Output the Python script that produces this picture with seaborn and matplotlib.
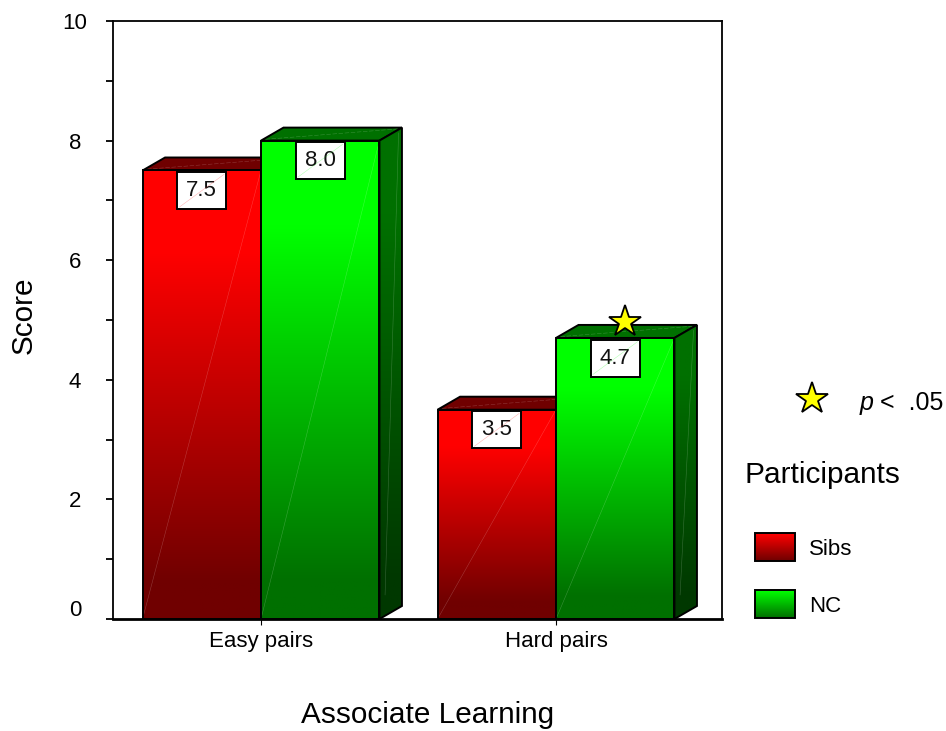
import numpy as np
import pandas as pd
import matplotlib
matplotlib.use("Agg")
import matplotlib.pyplot as plt
import seaborn as sns
from matplotlib.colors import LinearSegmentedColormap
from matplotlib.legend_handler import HandlerBase
from matplotlib.patches import Polygon, Rectangle, Patch
from matplotlib.path import Path
from matplotlib.lines import Line2D
from matplotlib.transforms import ScaledTranslation, IdentityTransform

# Chart data
conditions = ["Easy pairs", "Hard pairs"]
groups = ["Sibs", "NC"]
sibs_scores = [7.5, 3.5]
nc_scores = [8.0, 4.7]
y_ticks = [0, 2, 4, 6, 8, 10]
x_title = "Associate Learning"
y_title = "Score"
legend_title = "Participants"
significance_note = ".05"

W, H = 946, 731
FONT = "Liberation Sans"
sns.set_theme(style="white")
plt.rcParams["font.family"] = [FONT, "DejaVu Sans"]

# Shading of each group: bright, dark front colour; top colour; dark side colour
shades = {
    "Sibs": ("#ff0000", "#700000", "#700000", "#380000"),
    "NC": ("#00ff00", "#007000", "#007000", "#003800"),
}


def ramp(bright, dark):
    return LinearSegmentedColormap.from_list(
        "ramp", [(0, bright), (0.18, bright), (0.92, dark), (1, dark)])


grad = np.linspace(0, 1, 256).reshape(-1, 1)

fig = plt.figure(figsize=(W / 100, H / 100), dpi=100, facecolor="white")
ax = fig.add_axes([113 / W, 1 - 619 / H, 609 / W, 598 / H])

table = pd.DataFrame({
    "condition": conditions * 2,
    "group": [groups[0]] * 2 + [groups[1]] * 2,
    "score": sibs_scores + nc_scores,
})
sns.barplot(data=table, x="condition", y="score", hue="group", hue_order=groups,
            order=conditions, palette=[shades[g][0] for g in groups], width=0.803,
            gap=0, saturation=1, legend=False, ax=ax, errorbar=None)

xlim = (-0.5017, 1.5627)
ylim = (0, 10)
depth_x, depth_y = 22.5 / 295, 13 / 59.8
edge_lw = 1.4
seam = dict(color="white", lw=0.4, alpha=0.22)

for gi, (group, container) in enumerate(zip(groups, ax.containers)):
    bright, dark, top_col, side_col = shades[group]
    z = 2 + 2 * gi
    for bar in container:
        x0, w, v = bar.get_x(), bar.get_width(), bar.get_height()
        x1 = x0 + w
        # Top face and side face give the bar its depth
        top = Polygon([(x0, v), (x1, v), (x1 + depth_x, v + depth_y), (x0 + depth_x, v + depth_y)],
                      closed=True, fc=top_col, ec="black", lw=edge_lw, zorder=z, clip_on=False)
        side_pts = [(x1, 0), (x1 + depth_x, depth_y), (x1 + depth_x, v + depth_y), (x1, v)]
        side = Polygon(side_pts, closed=True, fc="none", ec="black", lw=edge_lw, zorder=z + 0.2)
        ax.add_patch(top)
        ax.add_patch(side)
        im = ax.imshow(grad, cmap=ramp(top_col, side_col), aspect="auto", zorder=z + 0.1,
                       extent=(x1, x1 + depth_x, 0, v + depth_y), vmin=0, vmax=1)
        im.set_clip_path(side)
        ax.plot([x1 + depth_x * 0.25, x1 + depth_x * 0.85], [0.4, v + depth_y * 0.6],
                zorder=z + 0.15, **seam)
        ax.plot([x0 + depth_x * 0.2, x1 + depth_x * 0.8], [v + depth_y * 0.1, v + depth_y * 0.9],
                zorder=z + 0.15, ls=(0, (8, 3)), **seam)

        # Front face
        bar.set_facecolor("none")
        bar.set_edgecolor("black")
        bar.set_linewidth(edge_lw)
        bar.set_zorder(z + 1.2)
        im = ax.imshow(grad, cmap=ramp(bright, dark), aspect="auto", zorder=z + 1,
                       extent=(x0, x1, 0, v), vmin=0, vmax=1)
        im.set_clip_path(bar)
        ax.plot([x0, x1], [0, v], zorder=z + 1.1, **seam)

ax.set_xlim(xlim)
ax.set_ylim(ylim)
ax.set_xlabel("")
ax.set_ylabel("")


def value_box(x0, y0, w, h, mutation_size):
    """Fixed-size label box centred on its text."""
    cx, cy = x0 + w / 2, y0 + h / 2
    hw, hh = 24.5, 18.5
    return Path([(cx - hw, cy - hh), (cx + hw, cy - hh), (cx + hw, cy + hh),
                 (cx - hw, cy + hh), (cx - hw, cy - hh)], closed=True)


value_texts = []
for gi, container in enumerate(ax.containers):
    if not hasattr(container, "patches"):
        continue
    for bar in container:
        v = bar.get_height()
        t = ax.annotate(f"{v:.1f}", (bar.get_x() + bar.get_width() / 2, v),
                        xytext=(0, -14.5), textcoords="offset points",
                        ha="center", va="center", fontsize=16, color="#111111", zorder=9,
                        bbox=dict(boxstyle=value_box, fc="white", ec="black", lw=1.4))
        value_texts.append((t, groups[gi]))

# Significance marker on the hard-pairs NC bar
star_style = dict(marker="*", ms=24, mfc="#ffff00", mec="black", mew=1.3, ls="none", clip_on=False)
ax.plot([1.234], [nc_scores[1] + 0.27], zorder=10, **star_style)

# Axes frame and ticks
for name, spine in ax.spines.items():
    spine.set_visible(True)
    spine.set_color("black")
    spine.set_linewidth(1.3)
ax.spines["bottom"].set_linewidth(2.0)
ax.spines["bottom"].set_zorder(12)

ax.set_yticks(y_ticks)
ax.set_yticks([t + 1 for t in y_ticks[:-1]], minor=True)
ax.tick_params(axis="y", which="both", direction="out", length=5, width=1.3, color="black", left=True)
ax.tick_params(axis="y", which="major", pad=22.3, labelsize=16, labelcolor="black")
ax.tick_params(axis="x", which="major", direction="out", length=4, width=0.8, color="black",
               bottom=True, pad=5, labelsize=16, labelcolor="black")
for lab in ax.get_yticklabels():
    lab.set_ha("center")
zero_label = ax.get_yticklabels()[0]
zero_label.set_transform(zero_label.get_transform() + ScaledTranslation(0, 11 / 100, fig.dpi_scale_trans))

ax.set_xlabel(x_title, fontsize=21.4, color="black")
ax.set_ylabel(y_title, fontsize=21.4, color="black")
ax.xaxis.set_label_coords((428 - 113) / 609, (619 - 715) / 598)
ax.xaxis.label.set_va("center")
ax.yaxis.set_label_coords((24 - 113) / 609, (619 - 315) / 598)
ax.yaxis.label.set_va("center")


# Legend swatches with the same vertical shading as the bars
class GradientSwatch(HandlerBase):
    def create_artists(self, legend, orig_handle, xdescent, ydescent, width, height, fontsize, trans):
        bright, dark = orig_handle.get_facecolor(), orig_handle.get_edgecolor()
        cmap = LinearSegmentedColormap.from_list("swatch", [bright, dark])
        left = width * 11 / 51
        sw = width - left
        n = 28
        artists = []
        for i in range(n):
            artists.append(Rectangle((left - xdescent, -ydescent + height * (n - 1 - i) / n), sw, height / n + 0.2,
                                     fc=cmap(i / (n - 1)), ec="none", transform=trans))
        artists.append(Rectangle((left - xdescent, -ydescent), sw, height, fc="none", ec="black",
                                 lw=1.4, transform=trans))
        return artists


handles = [Patch(facecolor=shades[g][0], edgecolor=shades[g][1]) for g in groups]
fs = 16
px = fs * 100 / 72
leg = ax.legend(handles, groups, handler_map={Patch: GradientSwatch()},
                loc="upper left", bbox_to_anchor=(744 / W, 1 - 461 / H), bbox_transform=fig.transFigure,
                frameon=False, fontsize=fs, title=legend_title, alignment="left",
                title_fontproperties={"size": 21.4, "family": FONT},
                borderpad=0, borderaxespad=0, handlelength=51 / px, handleheight=1.56,
                handletextpad=14 / px, labelspacing=29 / px)
leg._legend_box.sep = 32
leg.set_zorder(20)
leg.get_title().set_color("black")
for t in leg.get_texts():
    t.set_color("black")

# Key for the significance marker
fig.add_artist(Line2D([811.5 / W], [1 - 398.5 / H], transform=fig.transFigure, **star_style))
fig.text(860 / W, 1 - 403 / H, "p", style="italic", fontsize=18, ha="left", va="center", color="black")
fig.text(880 / W, 1 - 403 / H, "<  " + significance_note, fontsize=18, ha="left", va="center", color="black")

# Faint corner-to-corner seams across the value boxes
fig.canvas.draw()
for t, group in value_texts:
    bb = t.get_bbox_patch().get_window_extent()
    fig.add_artist(Line2D([bb.x0 + 2, bb.x1 - 2], [bb.y0 + 2, bb.y1 - 2], transform=IdentityTransform(),
                          color=shades[group][0], lw=0.4, alpha=0.3, zorder=30))

fig.savefig("out.png", dpi=100)
